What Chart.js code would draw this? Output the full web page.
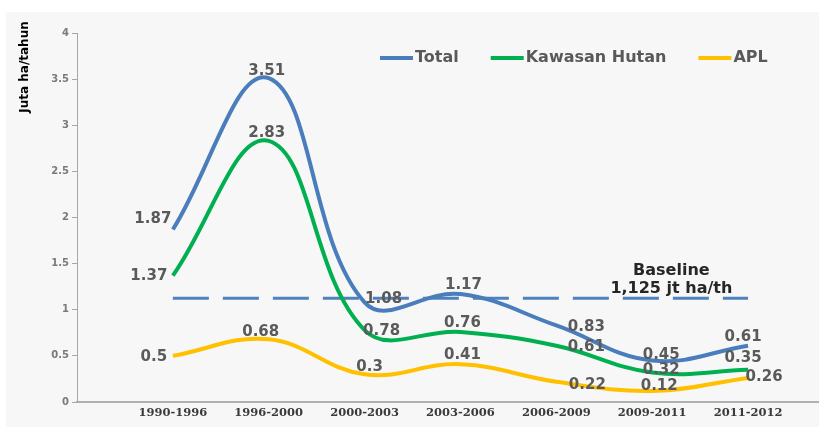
<!DOCTYPE html>
<html>
<head>
<meta charset="utf-8">
<script src="https://cdn.jsdelivr.net/npm/chart.js@4/dist/chart.umd.min.js"></script>
<style>
  html, body { margin: 0; padding: 0; background: #ffffff; }
  canvas { display: block; }
</style>
</head>
<body>
<canvas id="chart" width="819" height="427"></canvas>
<script>
// Laju deforestasi (juta ha/tahun) per periode
const categories = ['1990-1996', '1996-2000', '2000-2003', '2003-2006', '2006-2009', '2009-2011', '2011-2012'];
const seriesNames = ['Total', 'Kawasan Hutan', 'APL'];
const totalValues = [1.87, 3.51, 1.08, 1.17, 0.83, 0.45, 0.61];
const hutanValues = [1.37, 2.83, 0.78, 0.76, 0.61, 0.32, 0.35];
const aplValues = [0.5, 0.68, 0.3, 0.41, 0.22, 0.12, 0.26];
const baselineValue = 1.125;
const yTicks = [0, 0.5, 1, 1.5, 2, 2.5, 3, 3.5, 4];
const yTitle = 'Juta ha/tahun';
const baselineTitle = 'Baseline';
const baselineUnit = 'jt ha/th';

const seriesColors = ['#4a7dbb', '#00b050', '#ffc000'];

// per-label nudges (px) for the value labels, so they sit beside the curves
const labelNudge = [
  [[-20, -10], [-2, -7], [19, -3], [3, -9], [30, 2], [9, -5], [-5, -9]],
  [[-24, 0], [-2, -8], [17, 1], [2, -9], [30, 1], [9, -2], [-5, -12]],
  [[-19, 1], [-8, -7], [5, -7], [2, -9], [31, 3], [7, -5], [16, -1]]
];

const toPoints = vals => vals.map((v, i) => ({ x: i, y: v }));
const allSeries = [totalValues, hutanValues, aplValues];

const datasets = allSeries.map((vals, k) => ({
  label: seriesNames[k],
  data: toPoints(vals),
  borderColor: seriesColors[k],
  backgroundColor: seriesColors[k],
  borderWidth: 4,
  tension: 0.4,
  pointRadius: 0,
  pointHoverRadius: 0,
  fill: false
}));

datasets.push({
  label: baselineTitle,
  data: [{ x: 0, y: baselineValue }, { x: categories.length - 1, y: baselineValue }],
  borderColor: '#4f81bd',
  borderWidth: 3,
  borderDash: [36, 14],
  tension: 0,
  pointRadius: 0,
  fill: false
});

const panelBackground = {
  id: 'panelBackground',
  beforeDraw(chart) {
    const ctx = chart.ctx;
    ctx.save();
    ctx.fillStyle = '#ffffff';
    ctx.fillRect(0, 0, chart.width, chart.height);
    ctx.fillStyle = '#f7f7f7';
    ctx.fillRect(6, 12, chart.width - 6, chart.height - 12);
    ctx.restore();
  }
};

const valueLabels = {
  id: 'valueLabels',
  afterDatasetsDraw(chart) {
    const ctx = chart.ctx;
    ctx.save();
    ctx.font = 'bold 15px "DejaVu Sans"';
    ctx.fillStyle = '#5a5a5a';
    ctx.textAlign = 'center';
    ctx.textBaseline = 'middle';
    allSeries.forEach((vals, k) => {
      const meta = chart.getDatasetMeta(k);
      vals.forEach((v, i) => {
        const pt = meta.data[i];
        const [dx, dy] = labelNudge[k][i];
        ctx.fillText(String(v), pt.x + dx, pt.y + dy);
      });
    });
    ctx.restore();
  }
};

const annotations = {
  id: 'annotations',
  afterDraw(chart) {
    const ctx = chart.ctx;
    ctx.save();

    // axis title, top-aligned beside the y axis
    ctx.translate(25, 67);
    ctx.rotate(-Math.PI / 2);
    ctx.font = 'bold 12px "DejaVu Sans"';
    ctx.fillStyle = '#000000';
    ctx.textAlign = 'center';
    ctx.textBaseline = 'middle';
    ctx.fillText(yTitle, 0, 0);
    ctx.setTransform(1, 0, 0, 1, 0, 0);

    // baseline caption
    const bx = chart.scales.x.getPixelForValue(5.2);
    ctx.font = 'bold 16px "DejaVu Sans"';
    ctx.fillStyle = '#262626';
    ctx.fillText(baselineTitle, bx, 271);
    const valueText = baselineValue.toFixed(3).replace('.', ',') + ' ' + baselineUnit;
    ctx.fillText(valueText, bx, 289);

    // legend
    let x = 380;
    const y = 58;
    ctx.font = 'bold 16px "DejaVu Sans"';
    ctx.textAlign = 'left';
    seriesNames.forEach((name, k) => {
      ctx.strokeStyle = seriesColors[k];
      ctx.lineWidth = 4;
      ctx.beginPath();
      ctx.moveTo(x, y);
      ctx.lineTo(x + 33, y);
      ctx.stroke();
      ctx.fillStyle = '#595959';
      ctx.fillText(name, x + 35, y);
      x += 35 + ctx.measureText(name).width + 32;
    });
    ctx.restore();
  }
};

new Chart(document.getElementById('chart'), {
  type: 'line',
  data: { datasets },
  plugins: [panelBackground, valueLabels, annotations],
  options: {
    responsive: false,
    animation: false,
    events: [],
    layout: { padding: { top: 33, left: 0, right: 0, bottom: 0 } },
    plugins: {
      legend: { display: false },
      tooltip: { enabled: false },
      title: { display: false }
    },
    scales: {
      x: {
        type: 'linear',
        min: -1,
        max: 6.74,
        afterBuildTicks(scale) {
          scale.ticks = categories.map((c, i) => ({ value: i }));
        },
        afterFit(scale) { scale.height = 25; },
        ticks: {
          autoSkip: false,
          maxRotation: 0,
          minRotation: 0,
          padding: 4,
          color: '#3a3a3a',
          font: { family: '"DejaVu Serif"', size: 11.5, weight: 'bold' },
          callback: v => categories[v] ?? ''
        },
        grid: { display: false, drawTicks: false },
        border: { display: true, color: '#b0b0b0', width: 2 }
      },
      y: {
        min: 0,
        max: 4,
        afterBuildTicks(scale) {
          scale.ticks = yTicks.map(v => ({ value: v }));
        },
        afterFit(scale) { scale.width = 77; },
        ticks: {
          padding: 3,
          color: '#7a7a7a',
          font: { family: '"DejaVu Sans"', size: 10, weight: 'bold' },
          callback: v => String(v)
        },
        grid: { drawOnChartArea: false, drawTicks: true, tickLength: 5, color: '#a6a6a6' },
        border: { display: true, color: '#a6a6a6', width: 1 }
      }
    }
  }
});
</script>
</body>
</html>
